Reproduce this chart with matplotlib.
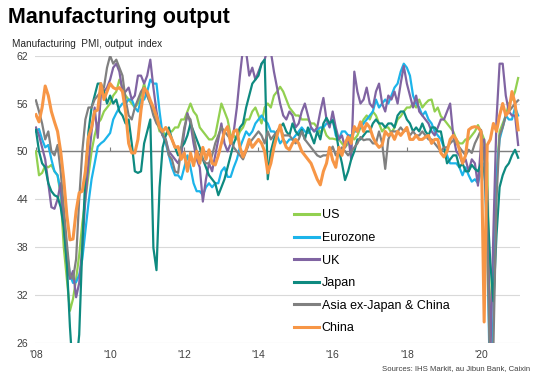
import numpy as np
import matplotlib
matplotlib.use("Agg")
import matplotlib.pyplot as plt

plt.rcParams['font.family'] = ['Liberation Sans', 'DejaVu Sans']

# monthly output index, Jan 2008 .. Jan 2021
us = [50.0, 47.0, 47.3, 48.2, 48.0, 48.3, 47.5, 47.0, 44.5, 38.0, 34.0, 30.0,
      31.5, 34.0, 37.0, 41.0, 44.0, 47.0, 50.0, 52.0, 53.5, 54.0, 55.0, 55.5,
      56.0, 57.0, 57.5, 59.0, 58.0, 57.0, 56.5, 56.0, 55.5, 56.0, 57.0, 58.5,
      57.0, 56.0, 55.5, 54.0, 52.5, 52.5, 52.0, 52.5, 52.5, 53.0, 53.0, 54.0,
      54.0, 55.0, 56.0, 55.0, 54.5, 53.0, 52.5, 52.0, 51.5, 51.5, 52.0, 54.0,
      56.0, 55.0, 54.0, 52.0, 52.0, 51.5, 52.5, 53.0, 54.0, 54.0, 55.0, 55.5,
      54.5, 53.5, 55.5, 56.0, 55.5, 57.0, 57.5, 58.1, 57.5, 56.5, 55.5, 55.0,
      54.5, 54.5, 54.0, 54.0, 54.0, 53.5, 53.5, 53.0, 52.3, 53.0, 52.0, 51.6,
      51.6, 51.5, 51.5, 51.0, 50.5, 51.0, 52.0, 51.5, 52.0, 53.0, 54.0, 54.5,
      54.0, 55.0, 54.5, 53.5, 52.5, 53.0, 53.0, 52.3, 53.0, 54.0, 54.4, 55.0,
      55.5, 55.5, 56.0, 55.5, 56.5, 55.5, 56.0, 56.4, 56.5, 55.0, 55.5, 54.4,
      54.0, 53.5, 53.0, 52.5, 51.5, 51.0, 51.0, 51.5, 51.5, 52.0, 52.5, 53.3,
      52.5, 51.5, 48.5, 27.5, 36.5, 47.0, 52.5, 53.5, 54.5, 56.0, 56.5, 57.5,
      59.2]
eurozone = [52.5, 52.8, 51.5, 50.5, 50.8, 49.0, 47.5, 47.0, 45.0, 41.5, 37.5, 34.5,
            33.5, 33.6, 34.5, 36.5, 40.0, 43.5, 46.5, 48.5, 50.6, 51.0, 51.3, 51.8,
            52.3, 54.0, 54.8, 55.5, 56.0, 56.0, 56.5, 56.5, 55.5, 55.0, 56.5, 56.5,
            57.5, 59.0, 58.5, 58.5, 55.0, 52.0, 51.0, 49.5, 48.0, 47.0, 47.0, 46.5,
            48.0, 49.5, 48.0, 46.0, 45.0, 45.0, 44.5, 45.5, 46.0, 45.5, 46.0, 46.0,
            47.5, 48.0, 46.8, 46.8, 48.0, 49.0, 50.5, 51.5, 52.5, 52.0, 52.5, 53.5,
            54.0, 54.5, 53.9, 53.5, 52.5, 52.5, 52.0, 51.0, 51.5, 51.0, 51.5, 51.5,
            52.0, 52.5, 53.0, 52.5, 52.3, 53.0, 52.5, 52.7, 53.0, 53.0, 53.5, 53.5,
            54.0, 52.0, 51.5, 52.5, 52.5, 52.0, 52.0, 52.5, 52.5, 53.0, 53.5, 54.0,
            54.5, 55.0, 56.5, 55.5, 56.0, 56.5, 56.0, 57.0, 58.0, 58.5, 60.0, 61.0,
            60.5, 59.5, 57.0, 56.0, 55.5, 54.5, 55.0, 54.0, 53.5, 52.5, 52.0, 51.5,
            50.5, 49.5, 48.5, 48.5, 48.5, 48.0, 47.0, 48.0, 47.0, 46.2, 46.5, 46.0,
            47.5, 48.5, 38.5, 18.0, 29.5, 47.0, 51.5, 53.0, 54.5, 54.0, 54.0, 55.5,
            54.5]
uk = [53.0, 52.0, 50.5, 49.0, 46.0, 43.0, 42.8, 44.0, 46.0, 41.0, 36.0, 34.0,
      35.0, 31.7, 33.5, 38.0, 44.0, 48.5, 52.5, 55.5, 51.7, 57.0, 57.5, 58.0,
      59.0, 60.5, 61.0, 60.0, 57.5, 57.5, 58.0, 56.5, 57.0, 59.5, 59.5, 58.5,
      59.5, 61.5, 58.0, 55.0, 53.0, 52.0, 51.5, 50.0, 49.5, 49.0, 48.5, 49.5,
      52.5, 54.8, 53.5, 51.0, 49.0, 48.0, 43.7, 46.5, 48.5, 47.5, 49.5, 51.5,
      53.5, 51.0, 50.0, 51.0, 52.5, 55.5, 59.5, 63.0, 62.5, 59.5, 60.5, 59.0,
      60.0, 61.0, 61.5, 63.0, 62.5, 60.0, 58.0, 56.0, 54.5, 54.0, 55.0, 54.5,
      53.0, 53.5, 55.0, 56.0, 54.5, 53.0, 52.5, 53.0, 55.0, 56.7, 54.0, 53.0,
      55.0, 53.0, 51.5, 52.0, 50.5, 52.0, 49.0, 60.0, 57.5, 56.0, 56.5, 58.0,
      56.0, 55.5, 57.5, 58.5, 56.0, 55.0, 57.0, 56.5, 57.5, 56.0, 58.5, 60.7,
      58.5, 57.0, 55.5, 57.0, 55.0, 54.5, 54.0, 53.5, 52.5, 52.0, 53.0, 54.0,
      54.0, 55.0, 56.0, 52.0, 50.0, 49.5, 48.5, 49.0, 47.5, 49.0, 48.5, 45.7,
      51.0, 51.5, 45.0, 24.0, 40.0, 54.0, 61.0, 61.0, 57.0, 55.0, 54.5, 54.5,
      50.8]
japan = [52.7, 50.0, 48.5, 48.0, 46.0, 45.0, 44.5, 44.3, 43.0, 40.5, 36.0, 28.0,
         22.0, 23.0, 27.0, 38.0, 47.0, 52.5, 55.5, 57.0, 58.5, 58.5, 57.5, 56.0,
         57.0, 56.0, 56.5, 55.0, 54.5, 53.5, 54.0, 51.0, 47.5, 47.3, 47.5, 51.0,
         52.5, 54.0, 37.9, 35.1, 45.5, 50.5, 52.0, 53.0, 51.5, 50.5, 49.5, 50.5,
         51.0, 52.0, 53.5, 52.5, 51.5, 50.5, 49.0, 48.0, 47.0, 46.5, 46.0, 44.5,
         45.5, 46.5, 48.0, 49.5, 51.0, 52.0, 53.0, 53.5, 55.5, 57.0, 58.5, 59.0,
         59.5, 61.0, 61.5, 46.5, 50.0, 51.5, 52.5, 53.0, 53.5, 52.5, 52.0, 53.5,
         52.5, 52.0, 52.7, 51.5, 53.0, 52.0, 51.0, 52.5, 51.5, 53.5, 54.2, 53.5,
         53.9, 52.5, 50.2, 48.5, 46.4, 47.5, 49.0, 50.0, 51.5, 51.5, 52.0, 52.5,
         52.5, 53.5, 54.0, 53.5, 53.5, 53.0, 53.5, 53.5, 53.0, 54.5, 55.0, 55.0,
         54.0, 53.5, 52.5, 53.0, 52.5, 53.5, 52.5, 52.0, 53.0, 53.0, 52.5, 52.5,
         50.5, 48.5, 49.0, 49.5, 49.5, 48.0, 48.5, 47.5, 47.5, 48.3, 47.8, 47.5,
         48.5, 47.5, 43.5, 36.0, 31.2, 39.5, 45.5, 47.0, 48.0, 48.5, 49.5, 50.2,
         49.2]
asia = [56.4, 55.0, 53.5, 51.5, 52.5, 50.0, 49.5, 50.8, 47.5, 43.0, 38.5, 34.5,
        34.0, 36.5, 44.0, 50.0, 54.0, 55.5, 55.5, 56.5, 57.0, 57.5, 58.0, 60.5,
        62.0, 61.0, 61.5, 60.5, 59.5, 56.5, 54.5, 54.0, 55.5, 56.5, 57.5, 58.0,
        57.0, 56.0, 54.5, 53.5, 53.0, 52.0, 51.5, 49.5, 49.0, 47.5, 47.3, 50.5,
        53.0, 54.5, 54.0, 52.0, 50.0, 49.5, 49.0, 48.5, 48.5, 49.5, 51.0, 52.0,
        53.0, 52.5, 52.0, 51.5, 50.5, 50.0, 49.5, 49.0, 50.0, 51.0, 51.5, 52.0,
        52.5, 52.0, 51.0, 52.5, 51.5, 52.0, 52.5, 53.0, 52.0, 52.0, 52.0, 51.5,
        51.0, 51.5, 52.5, 51.5, 51.0, 50.5, 50.0, 49.5, 49.3, 49.5, 49.5, 49.8,
        50.6, 49.5, 50.0, 50.5, 50.0, 49.5, 50.0, 50.5, 51.0, 51.8, 51.4, 51.5,
        51.5, 51.0, 51.0, 52.5, 51.0, 47.8, 51.5, 52.5, 52.5, 52.5, 53.0, 52.5,
        52.7, 52.0, 52.5, 52.0, 52.0, 52.5, 52.0, 51.5, 51.5, 51.0, 50.5, 50.0,
        50.5, 50.5, 51.0, 51.4, 51.0, 50.5, 50.0, 49.5, 50.2, 49.8, 51.0, 51.8,
        52.7, 49.0, 40.0, 20.0, 25.5, 44.0, 52.0, 53.0, 54.5, 55.0, 55.5, 56.0,
        56.4]
china = [54.6, 53.7, 55.5, 58.2, 57.0, 55.0, 53.7, 52.5, 50.0, 46.5, 42.0, 38.9,
         39.0, 42.5, 44.8, 45.0, 47.5, 51.8, 53.0, 55.0, 55.2, 58.5, 56.5, 57.5,
         58.5, 58.0, 57.8, 58.0, 57.5, 55.0, 51.0, 49.8, 49.8, 51.5, 55.2, 57.9,
         57.5, 56.4, 55.5, 54.4, 53.0, 52.5, 53.0, 52.3, 51.5, 50.5, 50.6, 49.0,
         49.8, 47.5, 49.8, 48.2, 50.0, 48.5, 50.5, 49.0, 50.2, 48.5, 48.3, 49.5,
         51.0, 52.5, 53.1, 51.0, 52.5, 52.7, 50.5, 49.3, 50.2, 51.5, 50.5, 51.0,
         51.5, 51.0, 50.0, 47.3, 48.5, 50.5, 52.0, 53.3, 51.5, 50.5, 50.2, 51.0,
         51.5, 51.0, 50.0, 49.5, 49.0, 48.5, 47.5, 46.5, 45.8, 47.5, 48.5, 50.5,
         48.9, 48.0, 50.5, 49.5, 51.0, 51.8, 51.0, 53.1, 52.5, 53.7, 52.5, 53.5,
         53.0, 51.8, 51.0, 50.5, 50.8, 52.5, 52.0, 52.3, 51.5, 52.5, 52.0, 52.5,
         53.0, 51.5, 51.5, 52.0, 51.5, 51.5, 51.8, 52.0, 51.0, 51.5, 51.5, 49.8,
         49.3, 50.0, 51.5, 52.0, 51.5, 50.2, 48.5, 49.5, 52.7, 53.0, 53.1, 53.0,
         52.5, 28.6, 50.8, 51.5, 53.5, 52.5, 54.5, 56.0, 54.5, 55.0, 57.5, 56.0,
         52.7]

names = ["US", "Eurozone", "UK", "Japan", "Asia ex-Japan & China", "China"]
colors = ["#92d050", "#1cb4ea", "#8064a2", "#0e8a80", "#808080", "#f79646"]
widths = [1.6, 1.6, 1.6, 1.6, 1.6, 2.2]

tick_years = [2008, 2010, 2012, 2014, 2016, 2018, 2020]
tick_labels = ["'08", "'10", "'12", "'14", "'16", "'18", "'20"]
y_ticks = [26, 32, 38, 44, 50, 56, 62]

x = 2008 + np.arange(len(us)) / 12.0

fig = plt.figure(figsize=(5.36, 3.87), dpi=100)
ax = fig.add_axes([35 / 536, 1 - 342.7 / 387, 485 / 536, 287 / 387])

for d in y_ticks:
    ax.axhline(d, color="#d9d9d9", lw=0.8, zorder=0)
ax.axhline(50, color="#7f7f7f", lw=1.0, zorder=1)

for series, name, c, w in zip([us, eurozone, uk, japan, asia, china], names, colors, widths):
    ax.plot(x, series, color=c, lw=w, label=name, solid_joinstyle="round", zorder=2)

ax.set_xlim(2008 - 0.3 / 12, 2008 + 156.6 / 12)
ax.set_ylim(26, 62)
for s in ax.spines.values():
    s.set_visible(False)
ax.set_yticks(y_ticks)
ax.set_xticks(tick_years)
ax.set_xticklabels(tick_labels)
ax.tick_params(axis="both", length=0, labelsize=7.5, colors="#404040")
ax.tick_params(axis="y", pad=5)
ax.tick_params(axis="x", pad=5)

# small tick marks sitting on the 50 line
sec = ax.secondary_xaxis((50 - 26) / 36)
sec.set_xticks(tick_years)
sec.xaxis.set_ticklabels([])
sec.tick_params(axis="x", direction="out", length=3, color="#7f7f7f")
for s in sec.spines.values():
    s.set_visible(False)

leg = ax.legend(loc="upper left", bbox_to_anchor=(288 / 536, 1 - 203 / 387),
                bbox_transform=fig.transFigure, frameon=False, fontsize=9,
                handlelength=2.0, handletextpad=0.2, labelspacing=0.85, borderpad=0)
for h in leg.get_lines():
    h.set_linewidth(2.2)

fig.text(8 / 536, 1 - 18 / 387, "Manufacturing output", fontsize=15.5, fontweight="bold",
         va="center", ha="left")
fig.text(12 / 536, 1 - 44 / 387, "Manufacturing  PMI, output  index", fontsize=7.2,
         va="center", ha="left", color="#262626")
fig.text(530 / 536, 1 - 369 / 387, "Sources: IHS Markit, au Jibun Bank, Caixin",
         fontsize=5.6, va="center", ha="right", color="#404040")

fig.savefig("out.png", dpi=100)
